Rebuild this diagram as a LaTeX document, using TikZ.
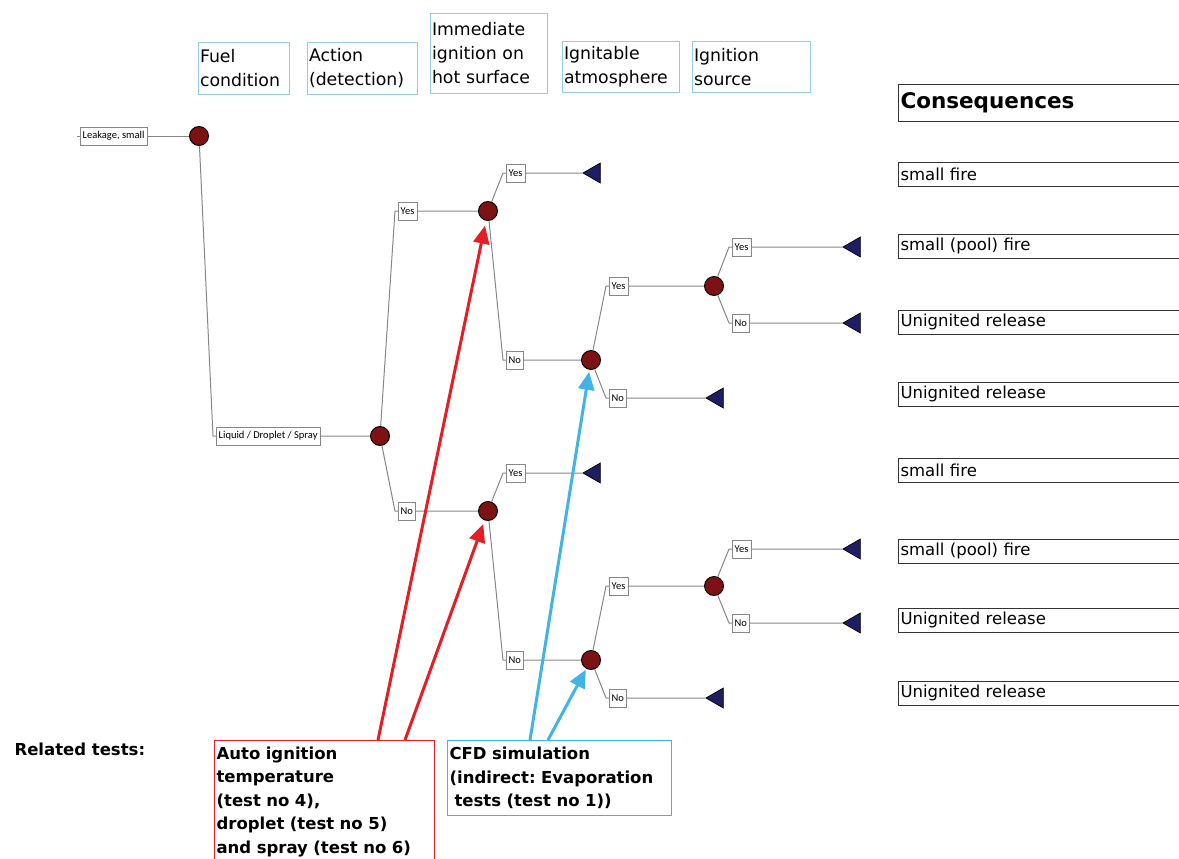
\documentclass[tikz,border=0pt]{standalone}
\usepackage{fontspec}
\setmainfont{DejaVu Sans}
\newfontfamily\calib{Carlito}
\frenchspacing
\usetikzlibrary{arrows.meta,shapes.geometric,positioning}
\definecolor{chanceRed}{RGB}{125,18,20}
\definecolor{endBlue}{RGB}{30,30,100}
\definecolor{headBlue}{RGB}{146,205,226}
\definecolor{testBlue}{RGB}{64,180,228}
\definecolor{testRed}{RGB}{228,30,36}
\definecolor{branchGray}{RGB}{135,135,135}
\tikzset {
	chance/.style={circle, draw=black, fill=chanceRed, minimum size=19pt, inner sep=0pt, line width=0.9pt},
	outcome/.style={regular polygon, regular polygon sides=3, shape border rotate=90, draw=black, fill=endBlue, minimum size=23pt, inner sep=0pt, line width=0.7pt},
	branch/.style={rectangle, draw=branchGray, fill=white, anchor=west, font=\calib\fontsize{10.5}{12}\selectfont, inner xsep=2.5pt, inner ysep=0pt, minimum height=18pt},
	header/.style={rectangle, draw=headBlue, line width=1pt, anchor=north west, align=left, inner xsep=1.5pt, font=\fontsize{17.3}{24}\selectfont},
	conseq/.style={rectangle, draw=black!80, line width=1pt, anchor=west, text width=290pt, align=left, inner xsep=2pt, minimum height=24pt, font=\fontsize{16.5}{20}\selectfont},
	tests/.style={rectangle, line width=1.2pt, anchor=north west, align=left, inner xsep=2pt, inner ysep=2pt, font=\bfseries\fontsize{16.5}{23.5}\selectfont},
	edge/.style={draw=branchGray, line width=1pt},
	hint/.style={line width=3pt, -{Triangle[length=18pt,width=16pt]}}
}

\begin{document}
\begin{tikzpicture}[x=1pt, y=-1pt]
	\useasboundingbox (0,0) rectangle (1179,859);
	% column headers
	\node [header, text width=88pt, minimum height=52pt] (hFuel) at (198,42) {Fuel\\condition};
	\node [header, text width=107pt, minimum height=52pt] (hAction) at (307,42) {Action\\(detection)};
	\node [header, text width=114pt, minimum height=80pt] (hHot) at (430,13) {Immediate\\ignition on\\hot surface};
	\node [header, text width=114pt, minimum height=51pt] (hAtm) at (562,41) {Ignitable\\atmosphere};
	\node [header, text width=115pt, minimum height=51pt] (hSrc) at (692,41) {Ignition\\source};
	% tree
	\node [branch] (lk) at (80,136) {Leakage, small};
	\node [chance] (c0) at (199,136) {};
	\node [branch] (ld) at (216,436) {Liquid / Droplet / Spray};
	\node [chance] (c1) at (380,436) {};
	\node [branch] (y1) at (398,211) {Yes};
	\node [branch] (n1) at (398,511) {No};
	\node [chance] (c2) at (488,211) {};
	\node [chance] (c3) at (488,511) {};
	\node [branch] (y2) at (506,173) {Yes};
	\node [branch] (n2) at (506,360) {No};
	\node [branch] (y3) at (506,473) {Yes};
	\node [branch] (n3) at (506,660) {No};
	\node [outcome] (t1) at (594.5,173) {};
	\node [outcome] (t2) at (594.5,473) {};
	\node [chance] (c4) at (591,360) {};
	\node [chance] (c5) at (591,660) {};
	\node [branch] (y4) at (609,286) {Yes};
	\node [branch] (n4) at (609,398) {No};
	\node [branch] (y5) at (609,586) {Yes};
	\node [branch] (n5) at (609,698) {No};
	\node [chance] (c6) at (714,286) {};
	\node [chance] (c7) at (714,586) {};
	\node [outcome] (t3) at (717.5,398) {};
	\node [outcome] (t4) at (717.5,698) {};
	\node [branch] (y6) at (732,247) {Yes};
	\node [branch] (n6) at (732,323) {No};
	\node [branch] (y7) at (732,549) {Yes};
	\node [branch] (n7) at (732,623) {No};
	\node [outcome] (t5) at (854.5,247) {};
	\node [outcome] (t6) at (854.5,323) {};
	\node [outcome] (t7) at (854.5,549) {};
	\node [outcome] (t8) at (854.5,623) {};
	\draw [edge] (lk.west) -- ++(-3,0);
	\draw [edge] (lk.east) -- (c0);
	\foreach \a/\l/\b in {c0/ld/c1, c1/y1/c2, c1/n1/c3, c2/y2/t1, c2/n2/c4, c3/y3/t2, c3/n3/c5,
			c4/y4/c6, c4/n4/t3, c5/y5/c7, c5/n5/t4, c6/y6/t5, c6/n6/t6, c7/y7/t7, c7/n7/t8}
		\draw [edge] (\a) -- ([xshift=-3pt]\l.west) -- (\l.west) (\l.east) -- (\b);
	% consequences
	\node [conseq, minimum height=36pt, font=\bfseries\fontsize{21.5}{24}\selectfont] (cHead) at (898,103) {Consequences};
	\node [conseq] (q1) at (898,174) {small fire};
	\node [conseq] (q2) at (898,246) {small (pool) fire};
	\node [conseq] (q3) at (898,322) {Unignited release};
	\node [conseq] (q4) at (898,394) {Unignited release};
	\node [conseq] (q5) at (898,470) {small fire};
	\node [conseq] (q6) at (898,551) {small (pool) fire};
	\node [conseq] (q7) at (898,620) {Unignited release};
	\node [conseq] (q8) at (898,693) {Unignited release};
	% related tests
	\node [tests] (rel) at (12,740) {Related tests:};
	\node [tests, draw=testRed, text width=216pt, minimum height=122pt] (rt) at (214,740) {Auto ignition\\temperature\\(test no 4),\\droplet (test no 5)\\and spray (test no 6)};
	\node [tests, draw=testBlue, text width=220pt, minimum height=75pt] (bt) at (447,740) {CFD simulation\\(indirect: Evaporation\\\hspace*{5pt}tests (test no 1))};
	\coordinate (r1) at ([xshift=164pt]rt.north west);
	\coordinate (r2) at ([xshift=191pt]rt.north west);
	\coordinate (b1) at ([xshift=83pt]bt.north west);
	\coordinate (b2) at ([xshift=101pt]bt.north west);
	\draw [hint, testRed, shorten >=5pt] (r1) -- (c2);
	\draw [hint, testRed, shorten >=4pt] (r2) -- (c3);
	\draw [hint, testBlue, shorten >=2pt] (b1) -- (c4);
	\draw [hint, testBlue, shorten >=1pt] (b2) -- (c5);
\end{tikzpicture}
\end{document}
